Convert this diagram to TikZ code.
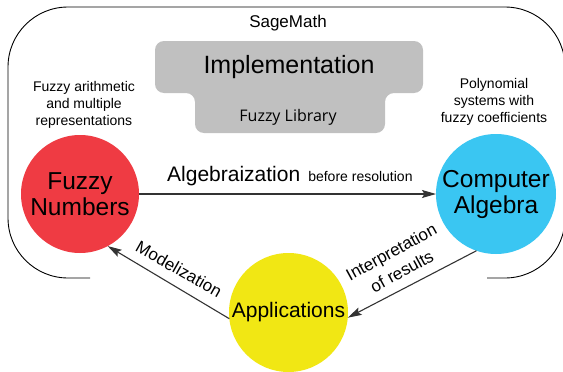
\documentclass[tikz,border=0pt]{standalone}
\usepackage{fontspec}
\setmainfont{Liberation Sans}
\newfontfamily\libfont{Open Sans}
\usetikzlibrary{arrows.meta}
\definecolor{cred}{HTML}{EF3B43}
\definecolor{cblue}{HTML}{3AC6F2}
\definecolor{cyellow}{HTML}{F1E714}
\definecolor{cgray}{HTML}{C0C0C0}
\definecolor{cline}{HTML}{333333}
\newcommand{\fs}[2]{\fontsize{#1}{#2}\selectfont}
\tikzset{
  frameline/.style={draw=black, line width=0.9pt, rounded corners=60pt},
  circ/.style={circle, minimum size=#1, inner sep=0pt, outer sep=0pt, align=center, text=black},
  conn/.style={draw=cline, line width=1.1pt, -{Stealth[length=14pt,width=8pt,inset=2.5pt]}},
  lbl/.style={inner sep=0pt, align=center, text=black},
}
\begin{document}
\begin{tikzpicture}[x=1pt,y=-1pt]
\useasboundingbox (0,0) rectangle (563,372);
\fill[white] (0,0) rectangle (563,372);
% outer frame
\draw[frameline] (90,278) -- (8,278) -- (8,7) -- (565,7) -- (565,278) -- (487,278);
% gray block
\fill[cgray, rounded corners=9pt] (155,41) -- (423,41) -- (423,93) -- (385,93) -- (385,133) -- (195,133) -- (195,93) -- (155,93) -- cycle;
\node[lbl, font=\fs{17}{20}] (sage) at (288,23) {SageMath};
\node[lbl, font=\fs{25}{30}] (impl) at (289,67) {Implementation};
\node[lbl, font=\libfont\fs{16}{19}] (lib) at (288,117) {Fuzzy Library};
% side texts
\node[lbl, font=\fs{14}{17}] (left) at (84,104.5) {Fuzzy arithmetic\\and multiple\\representations};
\node[lbl, font=\fs{14}{17}] (right) at (494,101.5) {Polynomial\\systems with\\fuzzy coefficients};
% circles
\node[circ=118pt, fill=cred, font=\fs{24.5}{26}] (fuzzy) at (80,194) {Fuzzy\\Numbers};
\node[circ=120pt, fill=cblue, font=\fs{24.5}{26}] (ca) at (496,194) {Computer\\Algebra};
\node[circ=119pt, fill=cyellow, font=\fs{21}{25}] (app) at (288.5,312.5) {Applications};
% connectors
\draw[conn] (fuzzy) -- (ca);
\draw[conn] (app.186) -- (fuzzy.-62.6);
\draw[conn] (ca.-109) -- (app.-5);
% labels
\node[lbl, anchor=base west, font=\fs{21}{25}] (alg) at (167,181) {Algebraization\hspace*{8pt}{\fs{14}{17}before resolution}};
\node[lbl, rotate=-29.4, font=\fs{17}{20}] (mod) at (179,269) {Modelization};
\node[lbl, rotate=28.7, font=\fs{17}{22}] (interp) at (396.5,261.5) {Interpretation\\of results};
\end{tikzpicture}
\end{document}
